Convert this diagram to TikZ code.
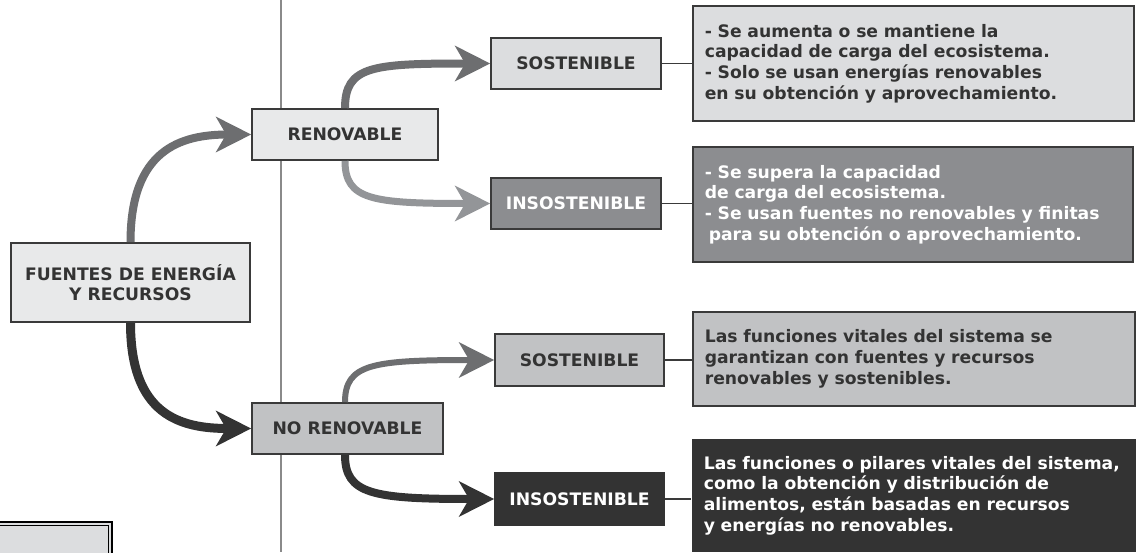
\documentclass[tikz,border=0pt]{standalone}
\usepackage{fontspec}
\setmainfont{DejaVu Sans}
\usetikzlibrary{arrows.meta}
\definecolor{bordc}{HTML}{3A3A3A}
\definecolor{txtd}{HTML}{333333}
\definecolor{fillA}{HTML}{E8E9EA}
\definecolor{fillS}{HTML}{DCDDDF}
\definecolor{fillI}{HTML}{8C8D90}
\definecolor{fillN}{HTML}{C1C2C4}
\definecolor{fillD}{HTML}{333333}
\definecolor{arrM}{HTML}{6D6E70}
\definecolor{arrL}{HTML}{939598}
\definecolor{arrD}{HTML}{333333}
\definecolor{vline}{HTML}{8A8A8A}
\begin{document}
\begin{tikzpicture}[x=1pt,y=-1pt,
  lbl/.style={draw=bordc, line width=1.6pt, text=txtd,
    font=\fontsize{17.2}{20.5}\selectfont\bfseries, inner sep=0pt, minimum height=51pt, align=center},
  desc/.style={draw=bordc, line width=1.6pt, text=txtd,
    font=\fontsize{17.2}{20.7}\selectfont\bfseries, align=left, inner xsep=12pt, inner ysep=0pt, anchor=west},
  arr/.style={line width=8pt, -{Stealth[length=35pt, width=35pt, inset=10pt]}},
  link/.style={draw=bordc, line width=1.6pt}
]
\useasboundingbox (0,0) rectangle (1136,552);
\fill[white] (0,0) rectangle (1136,552);
% vertical divider
\coordinate (vtop) at (281,0);
\coordinate (vbot) at (281,552);
\draw[vline, line width=1.5pt] (vtop) -- (vbot);

% main nodes
\node[lbl, fill=fillA, minimum width=239pt, minimum height=79pt] (F) at (130.5,282.5) {FUENTES DE ENERGÍA\\Y RECURSOS};
\node[lbl, fill=fillA, minimum width=186pt] (R) at (345,134.5) {RENOVABLE};
\node[lbl, fill=fillN, minimum width=191pt] (NR) at (347.5,428.5) {NO RENOVABLE};
\node[lbl, fill=fillS, minimum width=170pt] (S1) at (576,63.5) {SOSTENIBLE};
\node[lbl, fill=fillI, text=white, minimum width=170pt] (I1) at (576,203.5) {INSOSTENIBLE};
\node[lbl, fill=fillN, minimum width=169pt, minimum height=52pt] (S2) at (579.5,360) {SOSTENIBLE};
\node[lbl, fill=fillD, draw=fillD, text=white, minimum width=169pt, minimum height=52pt] (I2) at (579.5,499) {INSOSTENIBLE};

% description boxes
\node[desc, fill=fillS, text width=417pt, minimum height=115pt] (D1) at (692,63.5)
 {- Se aumenta o se mantiene la\\capacidad de carga del ecosistema.\\- Solo se usan energías renovables\\en su obtención y aprovechamiento.};
\node[desc, fill=fillI, text=white, text width=416pt, minimum height=115pt] (D2) at (692,204.5)
 {- Se supera la capacidad\\de carga del ecosistema.\\- Se usan fuentes no renovables y finitas\\\hspace*{4pt}para su obtención o aprovechamiento.};
\node[desc, fill=fillN, text width=418pt, minimum height=94pt] (D3) at (692,359)
 {Las funciones vitales del sistema se\\garantizan con fuentes y recursos\\renovables y sostenibles.};
\node[desc, fill=fillD, draw=none, text=white, text width=421pt, minimum height=113pt] (D4) at (691,495.5)
 {Las funciones o pilares vitales del sistema,\\como la obtención y distribución de\\alimentos, están basadas en recursos\\y energías no renovables.};

% links
\draw[link] (S1.east) -- (D1.west |- S1.east);
\draw[link] (I1.east) -- (D2.west |- I1.east);
\draw[link] (S2.east) -- (D3.west |- S2.east);
\draw[link] (I2.east) -- (D4.west |- I2.east);

% arrows
\draw[arr, arrM] (F.north) .. controls (130.5,150) and (180,134.5) .. (R.west);
\draw[arr, arrD, line width=9pt] (F.south) .. controls (130.5,415) and (180,428.5) .. (NR.west);
\draw[arr, arrM] (R.north) .. controls (345,66) and (372,63.5) .. (S1.west);
\draw[arr, arrL, line width=7pt] (R.south) .. controls (345,200) and (372,203.5) .. (I1.west);
\draw[arr, arrM, line width=6pt] ([xshift=-2.5pt]NR.north) .. controls (345,364) and (372,360) .. (S2.west);
\draw[arr, arrD] ([xshift=-2.5pt]NR.south) .. controls (345,494) and (372,499) .. (I2.west);

% partial box at bottom left
\fill[fillS] (0,522) rectangle (112,556);
\draw[black, line width=1.5pt] (-2,522) rectangle (112,556);
\draw[black, line width=0.6pt] (-2,525.5) rectangle (108.5,556);
\end{tikzpicture}
\end{document}
